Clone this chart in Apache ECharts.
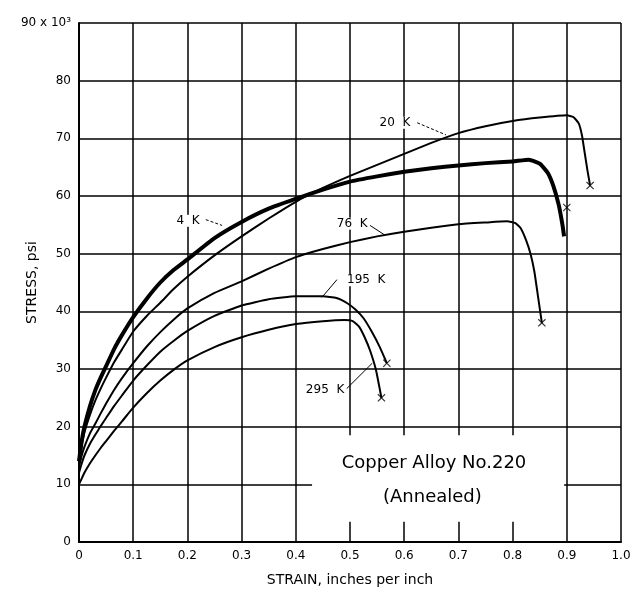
<!DOCTYPE html>
<html>
<head>
<meta charset="utf-8">
<title>Copper Alloy No.220</title>
<script src="https://cdn.jsdelivr.net/npm/echarts@6/dist/echarts.min.js"></script>
<style>
  html, body { margin: 0; padding: 0; background: #fff; }
  #main { width: 632px; height: 602px; }
</style>
</head>
<body>
<div id="main"></div>
<script>
// stress (x 1000 psi) against strain (in/in)
var curve4K = [[0, 14], [0.005, 17.5], [0.01, 20], [0.02, 23.5], [0.03, 26.3], [0.04, 28.5], [0.05, 30.5],
    [0.065, 33.5], [0.08, 36], [0.1, 39], [0.125, 42.2], [0.15, 45], [0.175, 47.2], [0.2, 49], [0.25, 52.7],
    [0.3, 55.5], [0.35, 57.8], [0.4, 59.5], [0.45, 61.1], [0.5, 62.5], [0.55, 63.4], [0.6, 64.2], [0.65, 64.8],
    [0.7, 65.3], [0.75, 65.7], [0.8, 66], [0.83, 66.3], [0.85, 65.6], [0.865, 64], [0.875, 61.8],
    [0.885, 58.5], [0.892, 55], [0.895, 53]];
var curve20K = [[0, 14], [0.005, 16.8], [0.01, 19], [0.02, 22], [0.03, 24.5], [0.04, 26.6], [0.05, 28.5],
    [0.065, 31.2], [0.08, 33.5], [0.1, 36.5], [0.125, 39.2], [0.15, 41.5], [0.175, 43.9], [0.2, 46],
    [0.25, 49.7], [0.3, 53], [0.35, 56.1], [0.4, 59], [0.45, 61.4], [0.5, 63.5], [0.55, 65.4], [0.6, 67.3],
    [0.65, 69.2], [0.7, 70.9], [0.75, 72.1], [0.8, 73], [0.85, 73.6], [0.9, 74], [0.912, 73.7],
    [0.922, 72.6], [0.928, 70.5], [0.933, 67.5], [0.938, 64.5], [0.943, 61.8]];
var curve76K = [[0, 13], [0.005, 15], [0.01, 16.5], [0.02, 18.8], [0.03, 20.5], [0.04, 22.3], [0.05, 24],
    [0.065, 26.4], [0.08, 28.5], [0.1, 31], [0.125, 33.9], [0.15, 36.4], [0.175, 38.6], [0.2, 40.5],
    [0.25, 43.2], [0.3, 45.2], [0.35, 47.4], [0.4, 49.4], [0.45, 50.8], [0.5, 52], [0.55, 53], [0.6, 53.8],
    [0.65, 54.5], [0.7, 55.1], [0.75, 55.4], [0.79, 55.6], [0.805, 55.3], [0.815, 54.4], [0.825, 52.3],
    [0.833, 50], [0.84, 47], [0.847, 42.5], [0.854, 38]];
var curve195K = [[0, 12], [0.005, 13.6], [0.01, 15], [0.02, 17], [0.03, 18.6], [0.04, 20.1], [0.05, 21.5],
    [0.065, 23.6], [0.08, 25.5], [0.1, 28], [0.125, 30.6], [0.15, 33], [0.175, 34.9], [0.2, 36.6],
    [0.25, 39.2], [0.3, 41], [0.35, 42.1], [0.4, 42.6], [0.45, 42.6], [0.475, 42.3], [0.495, 41.4],
    [0.51, 40.3], [0.525, 38.8], [0.54, 36.5], [0.555, 33.8], [0.568, 31]];
var curve295K = [[0, 10], [0.005, 11], [0.01, 12], [0.02, 13.6], [0.03, 15], [0.04, 16.3], [0.05, 17.5],
    [0.065, 19.3], [0.08, 21], [0.1, 23.3], [0.125, 25.8], [0.15, 28], [0.175, 29.9], [0.2, 31.5],
    [0.25, 33.8], [0.3, 35.5], [0.35, 36.8], [0.4, 37.8], [0.45, 38.3], [0.49, 38.5], [0.505, 38.3],
    [0.517, 37.3], [0.527, 35.5], [0.537, 33.2], [0.548, 29.8], [0.558, 25]];
// "x" marks where the specimens broke
var breakPoints = [[0.943, 61.8], [0.9, 58], [0.854, 38], [0.568, 31], [0.558, 25]];

var curveNames = ['4 K', '20 K', '76 K', '195 K', '295 K'];
var curves = [curve4K, curve20K, curve76K, curve195K, curve295K];

var chartDom = document.getElementById('main');
var myChart = echarts.init(chartDom);
var font = 'DejaVu Sans';

var series = curves.map(function (d, i) {
    return {
        name: curveNames[i],
        type: 'line',
        data: d,
        showSymbol: false,
        smooth: 0.15,
        lineStyle: { color: '#000', width: i === 0 ? 4 : 2, join: 'round' },
        z: 3
    };
});
series.push({
    name: 'break',
    type: 'scatter',
    data: breakPoints,
    symbol: 'path://M0,1L1,0L5,4L9,0L10,1L6,5L10,9L9,10L5,6L1,10L0,9L4,5Z',
    symbolSize: 8,
    itemStyle: { color: '#000' },
    z: 4
});

var option = {
    animation: false,
    backgroundColor: '#fff',
    grid: { left: 79, right: 11, top: 23, bottom: 60, outerBoundsMode: 'none', containLabel: false },
    xAxis: {
        type: 'value',
        min: 0,
        max: 1,
        interval: 0.1,
        name: 'STRAIN, inches per inch',
        nameLocation: 'middle',
        nameGap: 31,
        nameMoveOverlap: false,
        nameTextStyle: { color: '#000', fontSize: 14, fontFamily: font },
        axisLine: { lineStyle: { color: '#000', width: 2 } },
        axisTick: { show: false },
        axisLabel: {
            color: '#000', fontSize: 12, fontFamily: font, margin: 8,
            formatter: function (v) { return v === 0 ? '0' : v.toFixed(1); }
        },
        splitLine: { lineStyle: { color: '#000', width: 1.5 } }
    },
    yAxis: {
        type: 'value',
        min: 0,
        max: 90,
        interval: 10,
        name: 'STRESS, psi',
        nameLocation: 'middle',
        nameGap: 40,
        nameMoveOverlap: false,
        nameTextStyle: { color: '#000', fontSize: 14, fontFamily: font },
        axisLine: { lineStyle: { color: '#000', width: 2 } },
        axisTick: { show: false },
        axisLabel: {
            color: '#000', fontSize: 12, fontFamily: font, margin: 8,
            formatter: function (v) { return v === 90 ? '90 x 10³' : String(v); }
        },
        splitLine: { lineStyle: { color: '#000', width: 1.5 } }
    },
    series: series
};

myChart.setOption(option);

// annotations: curve labels with leader lines, and the boxed title
function px(p) { return myChart.convertToPixel({ gridIndex: 0 }, p); }

var labels = [
    { text: '4  K', at: [0.201, 55.7], from: [0.234, 55.9], to: [0.264, 54.9], dash: true },
    { text: '20  K', at: [0.583, 72.7], from: [0.624, 72.7], to: [0.677, 70.6], dash: true },
    { text: '76  K', at: [0.504, 55.2], from: [0.537, 54.9], to: [0.563, 53.3] },
    { text: '195  K', at: [0.53, 45.4], from: [0.476, 45.5], to: [0.448, 42.4] },
    { text: '295  K', at: [0.454, 26.3], from: [0.494, 26.6], to: [0.541, 31.0] }
];

var graphic = [];
var boxA = px([0.43, 18.5]);
var boxB = px([0.895, 3.5]);
graphic.push({
    type: 'rect',
    z: 1,
    shape: { x: boxA[0], y: boxA[1], width: boxB[0] - boxA[0], height: boxB[1] - boxA[1] },
    style: { fill: '#fff' }
});
var t1 = px([0.655, 13.7]);
var t2 = px([0.652, 7.7]);
graphic.push({
    type: 'text', z: 5, x: t1[0], y: t1[1],
    style: { text: 'Copper Alloy No.220', fill: '#000', font: '18px "DejaVu Sans"', align: 'center', verticalAlign: 'middle' }
});
graphic.push({
    type: 'text', z: 5, x: t2[0], y: t2[1],
    style: { text: '(Annealed)', fill: '#000', font: '18px "DejaVu Sans"', align: 'center', verticalAlign: 'middle' }
});

labels.forEach(function (l) {
    var a = px(l.at), f = px(l.from), t = px(l.to);
    graphic.push({
        type: 'text', z: 5, x: a[0], y: a[1],
        style: { text: l.text, fill: '#000', font: '12px "DejaVu Sans"', align: 'center', verticalAlign: 'middle',
                 backgroundColor: '#fff' }
    });
    graphic.push({
        type: 'line', z: 5,
        shape: { x1: f[0], y1: f[1], x2: t[0], y2: t[1] },
        style: { stroke: '#000', lineWidth: 1, lineDash: l.dash ? [3, 2] : null }
    });
});

myChart.setOption({ graphic: graphic });
</script>
</body>
</html>
